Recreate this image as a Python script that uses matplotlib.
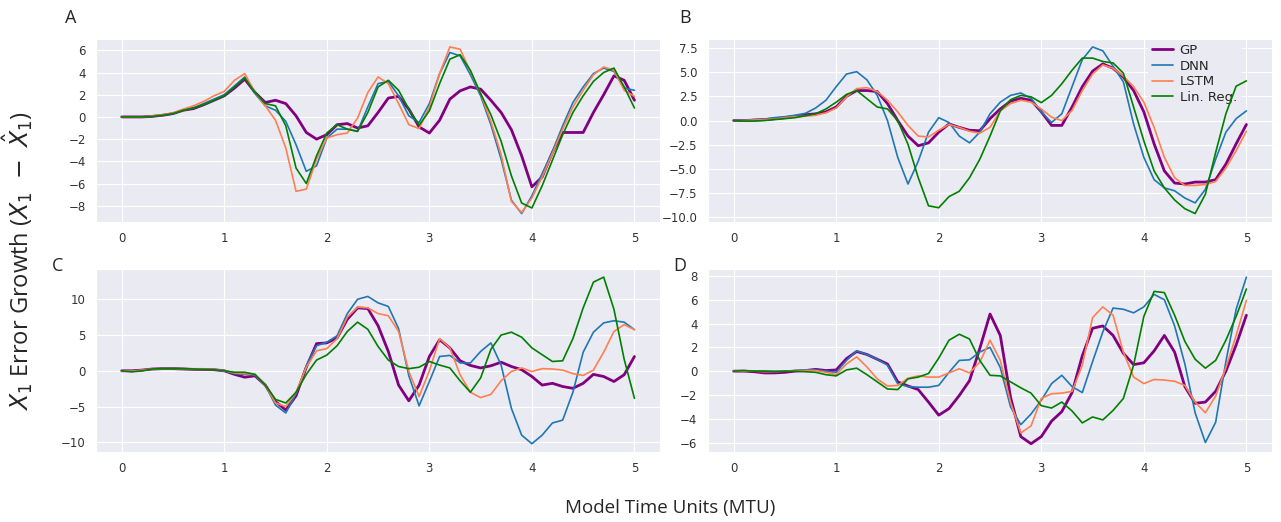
import numpy as np
import matplotlib
matplotlib.use("Agg")
import matplotlib.pyplot as plt
from matplotlib.ticker import MultipleLocator
import seaborn as sns

# sampling grid (model time units)
MTU = np.linspace(0, 5, 51)

MODELS = ["GP", "DNN", "LSTM", "Lin. Reg."]
COLORS = ["purple", "#1f77b4", "coral", "green"]
WIDTHS = [2.0, 1.2, 1.2, 1.2]

A_GP = [0, 0, 0, 0.05, 0.15, 0.3, 0.6, 0.75, 1.1, 1.5,
        1.9, 2.6, 3.4, 2.2, 1.3, 1.5, 1.2, 0.1, -1.4, -2.0,
        -1.6, -0.7, -0.6, -1.0, -0.8, 0.4, 1.7, 1.85, 0.7, -0.9,
        -1.45, -0.3, 1.6, 2.35, 2.7, 2.5, 1.5, 0.4, -1.15, -3.5,
        -6.3, -5.4, -3.2, -1.4, -1.4, -1.4, 0.4, 2.0, 3.7, 3.3, 1.5]
A_DNN = [0, 0, 0, 0.05, 0.15, 0.3, 0.6, 0.8, 1.2, 1.6,
         2.0, 2.8, 3.6, 2.1, 1.0, 0.6, -0.4, -2.5, -4.9, -4.4,
         -1.9, -1.1, -1.1, -1.3, 0.9, 3.0, 3.2, 1.9, 0.1, -0.5,
         1.2, 3.9, 5.8, 5.5, 3.8, 1.9, -0.7, -3.8, -7.5, -8.7,
         -7.1, -5.1, -3.1, -0.8, 1.3, 2.7, 3.9, 4.4, 4.1, 2.6, 2.4]
A_LSTM = [0, 0, 0, 0.1, 0.2, 0.35, 0.7, 1.0, 1.4, 1.9,
          2.3, 3.3, 3.9, 2.2, 1.0, -0.3, -2.8, -6.7, -6.5, -3.8,
          -1.9, -1.6, -1.45, -0.1, 2.2, 3.6, 3.0, 1.2, -0.7, -1.05,
          0.9, 3.9, 6.3, 6.1, 4.1, 2.1, -0.4, -3.4, -7.6, -8.6,
          -7.3, -5.4, -3.3, -1.1, 0.9, 2.4, 3.8, 4.5, 4.2, 2.4, 1.85]
A_LR = [0, 0, 0, 0.05, 0.15, 0.3, 0.6, 0.8, 1.1, 1.5,
        1.9, 2.7, 3.5, 2.2, 1.2, 1.0, -0.8, -4.6, -6.0, -3.5,
        -1.45, -0.7, -1.1, -1.3, 0.4, 2.7, 3.3, 2.4, 0.7, -0.75,
        0.55, 3.0, 5.2, 5.6, 4.2, 2.1, 0.2, -2.2, -5.3, -7.75,
        -8.2, -6.2, -3.9, -1.6, 0.4, 1.9, 3.2, 4.0, 4.4, 2.7, 0.8]

B_GP = [0, 0, 0.05, 0.1, 0.2, 0.3, 0.45, 0.6, 0.7, 0.9,
        1.4, 2.5, 3.1, 3.1, 3.0, 1.75, 0.0, -1.6, -2.6, -2.3,
        -1.2, -0.35, -0.7, -1.0, -1.05, 0.2, 1.2, 2.0, 2.3, 2.1,
        0.9, -0.5, -0.5, 1.4, 3.5, 5.1, 5.85, 5.4, 4.5, 3.1,
        0.9, -2.4, -5.2, -6.45, -6.55, -6.35, -6.35, -6.1, -4.5, -2.4, -0.4]
B_DNN = [0, 0.02, 0.1, 0.15, 0.3, 0.4, 0.55, 0.75, 1.3, 2.1,
         3.5, 4.8, 5.05, 4.2, 2.6, 0.0, -3.8, -6.55, -4.2, -1.2,
         0.3, -0.2, -1.6, -2.3, -1.2, 0.7, 1.9, 2.6, 2.85, 2.3,
         0.9, -0.2, 0.7, 3.5, 6.3, 7.6, 7.2, 5.6, 4.0, -0.35,
         -3.8, -6.1, -6.95, -7.25, -8.0, -8.5, -7.1, -4.0, -1.2, 0.2, 1.0]
B_LSTM = [0, 0, 0.05, 0.1, 0.15, 0.3, 0.4, 0.45, 0.55, 0.8,
          1.3, 2.45, 3.3, 3.4, 3.0, 2.1, 0.9, -0.5, -1.6, -1.7,
          -1.0, -0.4, -0.7, -1.1, -1.3, -0.7, 1.0, 1.75, 2.1, 1.9,
          1.2, 0.35, 0.0, 1.05, 3.1, 4.8, 5.75, 5.4, 4.6, 3.5,
          1.9, -0.7, -3.8, -5.9, -6.7, -6.7, -6.6, -6.3, -4.9, -3.1, -1.1]
B_LR = [0, -0.05, -0.05, 0.0, 0.1, 0.2, 0.3, 0.5, 0.7, 1.2,
        1.9, 2.7, 3.1, 2.25, 1.4, 1.2, 0.0, -2.45, -5.9, -8.8,
        -9.0, -7.85, -7.3, -5.9, -4.0, -1.6, 1.0, 2.15, 2.6, 2.45,
        1.85, 2.6, 3.8, 5.2, 6.45, 6.45, 6.1, 5.95, 4.9, 1.4,
        -2.1, -5.2, -6.95, -8.2, -9.1, -9.6, -7.6, -3.3, 0.7, 3.55, 4.1]

C_GP = [0, 0.0, 0.1, 0.25, 0.3, 0.3, 0.25, 0.2, 0.2, 0.15,
        0.0, -0.5, -0.9, -0.7, -2.0, -4.3, -5.5, -3.5, 0.5, 3.8,
        3.9, 4.6, 7.2, 8.8, 8.7, 6.3, 2.7, -2.0, -4.2, -2.0,
        2.0, 4.35, 3.2, 1.4, 0.75, 0.4, 0.7, 1.2, 0.6, 0.15,
        -0.8, -2.0, -1.75, -2.2, -2.45, -1.75, -0.5, -0.8, -1.5, -0.55, 2.0]
C_DNN = [0, -0.05, 0.1, 0.25, 0.3, 0.35, 0.3, 0.25, 0.2, 0.2,
         0.0, -0.4, -0.5, -0.6, -2.0, -4.8, -5.9, -3.2, 0.7, 3.5,
         4.0, 4.9, 8.0, 10.0, 10.4, 9.5, 9.0, 5.9, -0.7, -4.9,
         -1.5, 2.0, 2.15, 1.1, 1.1, 2.7, 3.9, 0.8, -5.25, -9.0,
         -10.2, -9.0, -7.3, -6.9, -3.0, 2.6, 5.4, 6.7, 7.0, 6.8, 5.75]
C_LSTM = [0, -0.05, 0.1, 0.25, 0.3, 0.3, 0.3, 0.25, 0.2, 0.2,
          0.0, -0.3, -0.4, -0.5, -2.0, -4.5, -5.0, -3.0, 0.5, 2.8,
          3.1, 4.5, 7.5, 8.9, 8.8, 8.0, 7.7, 5.5, -0.1, -3.6,
          0.0, 4.5, 3.2, -0.55, -3.0, -3.75, -3.3, -1.4, -0.1, 0.4,
          -0.1, 0.3, 0.25, 0.1, -0.4, -0.65, 0.1, 2.6, 5.5, 6.45, 5.75]
C_LR = [0, -0.15, 0.0, 0.25, 0.3, 0.3, 0.3, 0.25, 0.15, 0.15,
        0.0, -0.2, -0.2, -0.5, -2.0, -4.0, -4.5, -3.0, -0.5, 1.5,
        2.2, 3.5, 5.5, 6.8, 5.8, 3.4, 1.5, 0.6, 0.3, 0.5,
        1.3, 0.8, 0.4, -1.4, -3.0, -1.0, 3.0, 5.0, 5.4, 4.7,
        3.2, 2.25, 1.3, 1.4, 4.5, 8.8, 12.4, 13.1, 8.6, 1.6, -3.85]

D_GP = [0, 0, -0.05, -0.15, -0.15, -0.1, 0.0, 0.05, 0.15, 0.05,
        0.1, 1.05, 1.65, 1.4, 1.0, 0.6, -0.9, -1.25, -1.55, -2.6,
        -3.7, -3.15, -2.05, -0.8, 1.9, 4.8, 3.0, -2.2, -5.5, -6.1,
        -5.5, -4.2, -3.4, -1.8, 1.3, 3.6, 3.8, 3.0, 1.5, 0.55,
        0.7, 1.7, 3.0, 1.6, -1.3, -2.7, -2.6, -1.7, 0.0, 2.2, 4.7]
D_DNN = [0, 0, 0, 0, 0, 0, 0.05, 0.1, 0.1, 0.0,
         -0.1, 0.9, 1.7, 1.4, 1.0, 0.5, -1.05, -1.3, -1.35, -1.35,
         -1.2, -0.1, 0.9, 0.95, 1.6, 2.0, 0.3, -3.0, -4.5, -3.6,
         -2.45, -1.05, -0.35, -1.3, -1.8, 0.8, 3.3, 5.3, 5.2, 4.9,
         5.4, 6.45, 6.0, 3.8, 0.6, -3.5, -6.0, -4.3, 0.8, 5.2, 7.9]
D_LSTM = [0, 0, 0, -0.05, -0.05, 0, 0.05, 0.05, 0.05, -0.1,
          -0.3, 0.6, 1.2, 0.35, -0.65, -1.25, -1.2, -0.6, -0.4, -0.5,
          -0.5, -0.15, 0.2, -0.15, 0.75, 2.6, 0.9, -2.6, -5.2, -4.6,
          -2.3, -1.9, -1.85, -1.7, 0.5, 4.5, 5.4, 4.7, 1.6, -0.5,
          -1.05, -0.7, -0.75, -0.85, -1.2, -2.6, -3.5, -2.1, 0.3, 3.0, 5.95]
D_LR = [0, 0.05, 0.0, 0.0, -0.05, 0.0, 0.0, -0.05, -0.1, -0.3,
        -0.4, 0.1, 0.25, -0.3, -0.9, -1.5, -1.55, -0.65, -0.5, -0.2,
        1.1, 2.6, 3.1, 2.7, 0.9, -0.35, -0.4, -0.9, -1.4, -1.85,
        -2.9, -3.1, -2.6, -3.35, -4.35, -3.85, -4.1, -3.3, -2.3, 0.5,
        4.6, 6.7, 6.6, 4.7, 2.5, 1.0, 0.25, 0.9, 2.6, 4.6, 6.9]

PANELS = {
    "A": [A_GP, A_DNN, A_LSTM, A_LR],
    "B": [B_GP, B_DNN, B_LSTM, B_LR],
    "C": [C_GP, C_DNN, C_LSTM, C_LR],
    "D": [D_GP, D_DNN, D_LSTM, D_LR],
}
Y_STEP = {"A": 2, "B": 2.5, "C": 5, "D": 2}

sns.set_style("darkgrid")
plt.rcParams["font.family"] = ["DejaVu Sans"]

fig, axes = plt.subplots(2, 2, figsize=(12.81, 5.22), dpi=100)
fig.subplots_adjust(left=0.075, right=0.993, top=0.926, bottom=0.134,
                    wspace=0.085, hspace=0.256)

letter_pos = {"A": (0.055, 0.965), "B": (0.535, 0.965),
              "C": (0.045, 0.49), "D": (0.531, 0.49)}

for ax, (name, series) in zip(axes.flat, PANELS.items()):
    for vals, label, color, lw in zip(series, MODELS, COLORS, WIDTHS):
        ax.plot(MTU, vals, color=color, lw=lw, label=label)
    ax.yaxis.set_major_locator(MultipleLocator(Y_STEP[name]))
    ax.tick_params(labelsize=8.5, colors="#333333", pad=4)
    fx, fy = letter_pos[name]
    fig.text(fx, fy, name, fontsize=13, family="Open Sans", ha="center", va="center")

leg = axes[0, 1].legend(loc="upper right", bbox_to_anchor=(0.947, 1.0), fontsize=9.5,
                        borderaxespad=0.1, borderpad=0.3, handlelength=1.6,
                        handletextpad=0.5, labelspacing=0.2, framealpha=1.0)
leg.get_frame().set_edgecolor("#EAEAF2")
leg.set_zorder(1)

fig.text(0.014, 0.5, r"$X_1$ Error Growth ($X_1$  $-$  $\hat{X}_1$)",
         rotation=90, ha="center", va="center", fontsize=17, family="Open Sans")
fig.text(0.523, 0.027, "Model Time Units (MTU)", ha="center", va="center",
         fontsize=13.5, family="Open Sans")

fig.savefig("out.png", dpi=100)
plt.close(fig)
